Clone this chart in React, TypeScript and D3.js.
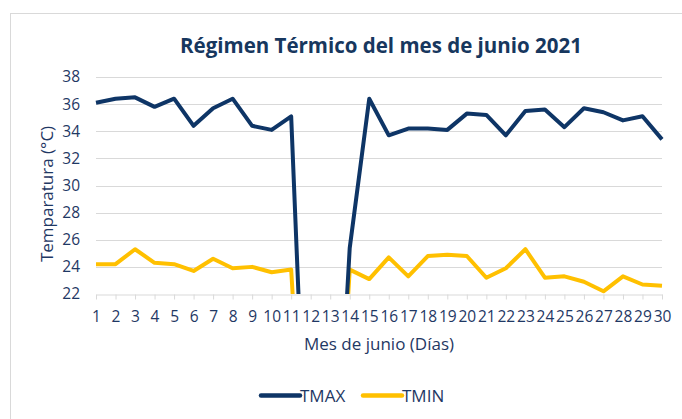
import React, { useRef, useEffect } from "react";
import * as d3 from "d3";

const days = d3.range(1, 31).map(String);
const tmax = [36.1, 36.4, 36.5, 35.8, 36.4, 34.4, 35.7, 36.4, 34.4, 34.1, 35.1, 0, 0, 25.4, 36.4, 33.7, 34.2, 34.2, 34.1, 35.3, 35.2, 33.7, 35.5, 35.6, 34.3, 35.7, 35.4, 34.8, 35.1, 33.4];
const tmin = [24.2, 24.2, 25.3, 24.3, 24.2, 23.7, 24.6, 23.9, 24.0, 23.6, 23.8, 0, 0, 23.8, 23.1, 24.7, 23.3, 24.8, 24.9, 24.8, 23.2, 23.9, 25.3, 23.2, 23.3, 22.9, 22.2, 23.3, 22.7, 22.6];
const yTicks = [22, 24, 26, 28, 30, 32, 34, 36, 38];
const seriesNames = ["TMAX", "TMIN"];
const seriesColors = ["#0E3566", "#FFC000"];

const W = 682;
const H = 419;
const TEXT = "#1F3864";
const FONT = "'Open Sans', sans-serif";

function drawChart(el: SVGSVGElement) {
  const svg = d3.select(el);
  svg.selectAll("*").remove();

  const left = 96;
  const right = 662;
  const top = 77;
  const bottom = 294;

  // marco del gráfico
  svg.append("rect")
    .attr("x", 10.5).attr("y", 13.5)
    .attr("width", W).attr("height", H)
    .attr("fill", "#fff").attr("stroke", "#D9D9D9");

  svg.append("text")
    .attr("x", 381).attr("y", 53)
    .attr("text-anchor", "middle")
    .attr("font-family", FONT).attr("font-weight", 700)
    .attr("font-size", 20.5).attr("fill", "#17375E")
    .text("Régimen Térmico del mes de junio 2021");

  const x = d3.scalePoint<string>().domain(days).range([left, right]);
  const y = d3.scaleLinear().domain([22, 38]).range([bottom, top]);

  // líneas de cuadrícula
  svg.append("g").selectAll("line")
    .data(yTicks.slice(1))
    .enter().append("line")
    .attr("x1", left).attr("x2", right)
    .attr("y1", (d) => Math.round(y(d)) + 0.5).attr("y2", (d) => Math.round(y(d)) + 0.5)
    .attr("stroke", "#D9D9D9").attr("stroke-width", 1);

  const yAxis = svg.append("g")
    .attr("transform", `translate(${left},0)`)
    .call(d3.axisLeft(y).tickValues(yTicks).tickSize(0).tickPadding(16));
  yAxis.select(".domain").remove();
  yAxis.selectAll("text")
    .attr("font-family", FONT).attr("font-size", 15.5).attr("fill", TEXT);

  const xAxis = svg.append("g")
    .attr("transform", `translate(0,${Math.round(bottom) + 0.5})`)
    .call(d3.axisBottom(x).tickSizeInner(5).tickSizeOuter(0).tickPadding(11));
  xAxis.select(".domain").attr("stroke", "#D9D9D9");
  xAxis.selectAll("line").attr("stroke", "#D9D9D9");
  xAxis.selectAll("text")
    .attr("font-family", FONT).attr("font-size", 15.5).attr("fill", TEXT);

  svg.append("text")
    .attr("transform", `translate(53,194) rotate(-90)`)
    .attr("text-anchor", "middle")
    .attr("font-family", FONT).attr("font-size", 17).attr("fill", TEXT)
    .text("Temparatura (°C)");

  svg.append("text")
    .attr("x", 379).attr("y", 350)
    .attr("text-anchor", "middle")
    .attr("font-family", FONT).attr("font-size", 17).attr("fill", TEXT)
    .text("Mes de junio (Días)");

  svg.append("clipPath").attr("id", "plot-clip")
    .append("rect")
    .attr("x", left - 5).attr("y", top - 10)
    .attr("width", right - left + 10).attr("height", bottom - top + 10);

  const line = d3.line<number>()
    .x((_, i) => x(days[i]) as number)
    .y((d) => y(d));

  const plot = svg.append("g").attr("clip-path", "url(#plot-clip)");
  [tmin, tmax].forEach((vals, k) => {
    const idx = k === 0 ? 1 : 0;
    plot.append("path")
      .datum(vals)
      .attr("d", line)
      .attr("fill", "none")
      .attr("stroke", seriesColors[idx])
      .attr("stroke-width", 4)
      .attr("stroke-linejoin", "round");
  });

  // leyenda
  const legendX = [261, 363];
  seriesNames.forEach((name, i) => {
    const g = svg.append("g").attr("transform", `translate(${legendX[i]},395.5)`);
    g.append("line")
      .attr("x1", 0).attr("x2", 39).attr("y1", 0).attr("y2", 0)
      .attr("stroke", seriesColors[i]).attr("stroke-width", 4.5)
      .attr("stroke-linecap", "round");
    g.append("text")
      .attr("x", 39).attr("y", 6)
      .attr("font-family", FONT).attr("font-size", 17).attr("fill", TEXT)
      .text(name);
  });
}

export default function App() {
  const ref = useRef<SVGSVGElement>(null);
  useEffect(() => {
    if (ref.current == null) return;
    drawChart(ref.current);
  }, []);
  return (
    <div style={{ position: "absolute", left: 0, top: 0, width: W, height: H, background: "#fff" }}>
      <svg ref={ref} width={W} height={H}></svg>
    </div>
  );
}
